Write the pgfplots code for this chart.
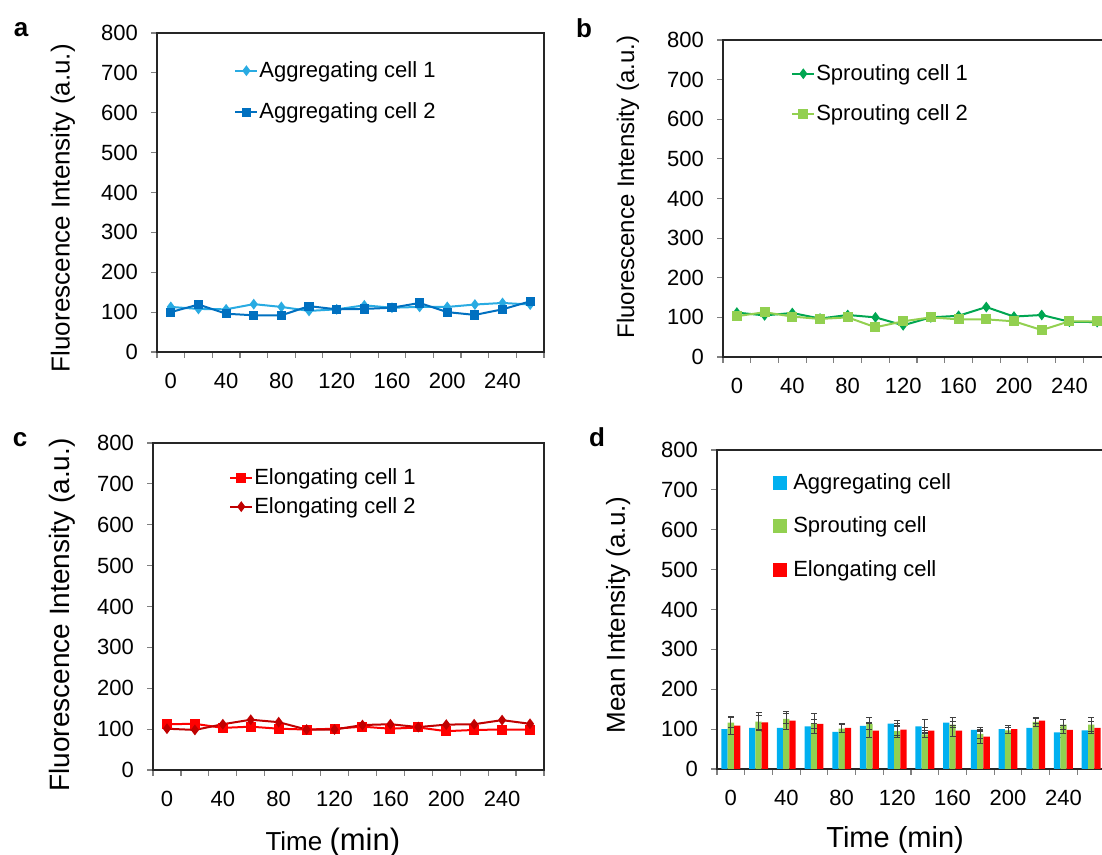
\documentclass[border=0pt]{standalone}
\usepackage{fontspec}
\setmainfont{Liberation Sans}
\usepackage{pgfplots}
\pgfplotsset{compat=1.18}
\definecolor{aggA}{RGB}{41,171,226}
\definecolor{aggB}{RGB}{0,112,192}
\definecolor{spA}{RGB}{0,166,81}
\definecolor{spB}{RGB}{146,208,80}
\definecolor{elA}{RGB}{255,0,0}
\definecolor{elB}{RGB}{192,0,0}
\definecolor{barB}{RGB}{0,176,240}
\definecolor{barG}{RGB}{146,208,80}
\definecolor{barR}{RGB}{255,0,0}
\newcommand\tickfont{\fontsize{11}{13}\selectfont}
\pgfplotsset{panel/.style={
  scale only axis, ymin=0, ymax=800, ytick={0,100,...,800},
  xmin=-0.5, xmax=13.5, xtick={0,2,4,6,8,10,12},
  xticklabels={0,40,80,120,160,200,240},
  minor xtick={-0.5,0.5,...,13.5},
  tick align=outside, xtick pos=bottom, ytick pos=left,
  major tick length=3pt, minor tick length=3pt,
  every tick/.style={gray, line width=0.6pt},
  every major x tick/.style={draw=none},
  axis line style={black!85, line width=1pt},
  ticklabel style={font=\tickfont},
  /pgf/number format/assume math mode=true,
  yticklabel style={xshift=-3pt},
  xticklabel style={yshift=-4pt},
  legend cell align=left,
  legend image code/.code={\draw[mark repeat=2,mark phase=2,##1] plot coordinates {(0pt,0pt) (5.5pt,0pt) (11pt,0pt)};},
  legend style={draw=none, fill=none, font=\tickfont, anchor=north west, inner sep=0pt, nodes={inner xsep=0.5pt, inner ysep=1pt}},
}}
\begin{document}
\begin{tikzpicture}
\path[use as bounding box] (0,0) rectangle (551pt,427.5pt);
\clip (0,0) rectangle (551pt,427.5pt);
\node[font=\bfseries\fontsize{13}{13}\selectfont] at (10.5pt,412.5pt) {a};
\node[font=\bfseries\fontsize{13}{13}\selectfont] at (292pt,413.5pt) {b};
\node[font=\bfseries\fontsize{13}{13}\selectfont] at (10pt,207.5pt) {c};
\node[font=\bfseries\fontsize{13}{13}\selectfont] at (298.5pt,209pt) {d};
% panel a
\begin{axis}[panel, at={(78.5pt,251.5pt)}, anchor=south west, width=193.5pt, height=159.5pt,
  ylabel={Fluorescence Intensity (a.u.)},
  ylabel style={font=\fontsize{13}{15}\selectfont, at={(axis description cs:-0.243,0.451)}, anchor=center},
  legend style={at={(axis description cs:0.199,0.919)}, row sep=9.3pt}]
\addplot[color=aggA, line width=1pt, mark=diamond*, mark size=1.9pt, mark options={fill=aggA}] coordinates {
(0,113) (1,108) (2,107) (3,120) (4,113) (5,103) (6,107) (7,117) (8,111) (9,113) (10,113) (11,119) (12,123) (13,119)};
\addlegendentry{Aggregating cell 1}
\addplot[color=aggB, line width=1pt, mark=square*, mark size=1.8pt, mark options={fill=aggB}] coordinates {
(0,100) (1,119) (2,96) (3,92) (4,92) (5,115) (6,107) (7,108) (8,111) (9,123) (10,100) (11,93) (12,107) (13,127)};
\addlegendentry{Aggregating cell 2}
\end{axis}
% panel b
\begin{axis}[panel, at={(361.5pt,249pt)}, anchor=south west, width=194pt, height=158.5pt,
  ylabel={Fluorescence Intensity (a.u.)},
  ylabel style={font=\fontsize{12}{14}\selectfont, at={(axis description cs:-0.245,0.536)}, anchor=center},
  legend style={at={(axis description cs:0.175,0.931)}, row sep=8.8pt}]
\addplot[color=spA, line width=1pt, mark=diamond*, mark size=1.9pt, mark options={fill=spA}] coordinates {
(0,112) (1,105) (2,111) (3,97) (4,106) (5,100) (6,80) (7,100) (8,104) (9,126) (10,102) (11,106) (12,89) (13,88)};
\addlegendentry{Sprouting cell 1}
\addplot[color=spB, line width=1pt, mark=square*, mark size=2pt, mark options={fill=spB}] coordinates {
(0,103) (1,113) (2,102) (3,96) (4,100) (5,75) (6,90) (7,100) (8,95) (9,95) (10,90) (11,68) (12,90) (13,90)};
\addlegendentry{Sprouting cell 2}
\end{axis}
% panel c
\begin{axis}[panel, at={(76.5pt,42.5pt)}, anchor=south west, width=195.5pt, height=163.5pt,
  ylabel={Fluorescence Intensity (a.u.)},
  ylabel style={font=\fontsize{14}{16}\selectfont, at={(axis description cs:-0.233,0.474)}, anchor=center},
  xlabel={\fontsize{13}{15}\selectfont Time \fontsize{15.5}{17}\selectfont(min)},
  xlabel style={at={(axis description cs:0.46,-0.223)}, anchor=center},
  legend style={at={(axis description cs:0.194,0.929)}, row sep=2.8pt}]
\addplot[color=elA, line width=1pt, mark=square*, mark size=2pt, mark options={fill=elA}] coordinates {
(0,112) (1,113) (2,103) (3,106) (4,101) (5,99) (6,101) (7,106) (8,101) (9,104) (10,95) (11,98) (12,99) (13,99)};
\addlegendentry{Elongating cell 1}
\addplot[color=elB, line width=1pt, mark=diamond*, mark size=1.9pt, mark options={fill=elB}] coordinates {
(0,101) (1,98) (2,112) (3,123) (4,117) (5,99) (6,99) (7,110) (8,112) (9,105) (10,111) (11,112) (12,122) (13,113)};
\addlegendentry{Elongating cell 2}
\end{axis}
% panel d
\begin{axis}[panel, at={(358.5pt,43pt)}, anchor=south west, width=194pt, height=159.5pt,
  ylabel={Mean Intensity (a.u.)},
  ylabel style={font=\fontsize{13}{15}\selectfont, at={(axis description cs:-0.255,0.483)}, anchor=center},
  xlabel={Time (min)},
  xlabel style={font=\fontsize{14.5}{16}\selectfont, at={(axis description cs:0.459,-0.223)}, anchor=center},
  legend style={at={(axis description cs:0.142,0.935)}, row sep=10.3pt, /tikz/every odd column/.append style={column sep=3pt}}]
\addplot[ybar, bar width=3.15pt, bar shift=-3.15pt, fill=barB, draw=none, forget plot,
  error bars/.cd, y dir=both, y explicit, error bar style={draw=black!75, line width=0.5pt},
  error mark options={rotate=90, mark size=1.5pt, draw=black!75, line width=0.5pt}]
  table[x=x, y=y, y error=e, row sep=\\] {
x y e \\ 0 100 7 \\ 1 103 10 \\ 2 103 17 \\ 3 107 6 \\ 4 93 5 \\ 5 108 8 \\ 6 114 8 \\
7 107 16 \\ 8 116 12 \\ 9 98 5 \\ 10 100 10 \\ 11 103 12 \\ 12 92 12 \\ 13 97 7 \\};
\addplot[ybar, bar width=3.15pt, bar shift=0pt, fill=barG, draw=none, forget plot,
  error bars/.cd, y dir=both, y explicit, error bar style={draw=black!75, line width=0.5pt},
  error mark options={rotate=90, mark size=1.5pt, draw=black!75, line width=0.5pt}]
  table[x=x, y=y, y error=e, row sep=\\] {
x y e \\ 0 116 12 \\ 1 119 22 \\ 2 126 13 \\ 3 113 12 \\ 4 101 10 \\ 5 113 15 \\ 6 95 15 \\
7 87 9 \\ 8 111 8 \\ 9 88 12 \\ 10 97 8 \\ 11 118 12 \\ 12 111 12 \\ 13 111 18 \\};
\addplot[ybar, bar width=3.15pt, bar shift=3.15pt, fill=barR, draw=none, forget plot,
  error bars/.cd, y dir=both, y explicit, error bar style={draw=black!75, line width=0.5pt},
  error mark options={rotate=90, mark size=1.5pt, draw=black!75, line width=0.5pt}]
  table[x=x, y=y, y error=e, row sep=\\] {
x y e \\ 0 109 22 \\ 1 117 18 \\ 2 121 22 \\ 3 113 25 \\ 4 103 12 \\ 5 96 18 \\ 6 99 15 \\
7 96 8 \\ 8 96 14 \\ 9 81 16 \\ 10 100 10 \\ 11 121 6 \\ 12 98 10 \\ 13 103 15 \\};
\addlegendimage{legend image code/.code={\fill[barB] (0pt,-3.25pt) rectangle (6.5pt,3.25pt);}}
\addlegendentry{Aggregating cell}
\addlegendimage{legend image code/.code={\fill[barG] (0pt,-3.25pt) rectangle (6.5pt,3.25pt);}}
\addlegendentry{Sprouting cell}
\addlegendimage{legend image code/.code={\fill[barR] (0pt,-3.25pt) rectangle (6.5pt,3.25pt);}}
\addlegendentry{Elongating cell}
\end{axis}
\end{tikzpicture}
\end{document}
